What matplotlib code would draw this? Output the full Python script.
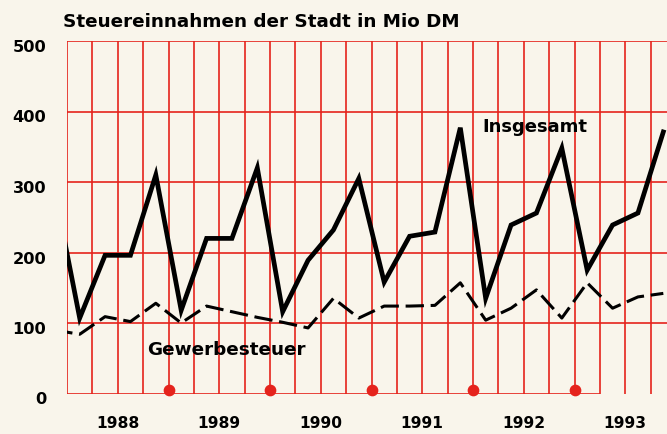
import matplotlib
matplotlib.use("Agg")
import matplotlib.pyplot as plt
import matplotlib.transforms as mtransforms
import numpy as np
import pandas as pd

# quarterly tax revenue, Mio DM
quarters = pd.period_range("1987Q4", "1993Q4", freq="Q")
insgesamt = [291, 107, 196, 196, 310, 118, 220, 220, 320, 116, 189, 232, 305,
             158, 223, 229, 377, 135, 239, 256, 348, 175, 239, 256, 371]
gewerbesteuer = [90, 84, 109, 102, 128, 100, 124, 116, 108, 101, 93, 135, 107,
                 124, 124, 125, 157, 104, 121, 147, 107, 157, 121, 137, 142]
years = [1988, 1989, 1990, 1991, 1992, 1993]
marker_years = [1989, 1990, 1991, 1992, 1993]
y_ticks = [0, 100, 200, 300, 400, 500]

RED = "#e5231c"
BG = "#f9f5eb"
FONT = "DejaVu Sans"

x = np.array([q.year + (q.quarter - 0.5) / 4 for q in quarters])
x_end = 1988 + (667 - 67) / 101.5

fig = plt.figure(figsize=(6.67, 4.34), dpi=100, facecolor=BG)
ax = fig.add_axes([67 / 667, 1 - 393.5 / 434, 1 - 67 / 667, (393.5 - 41) / 434])
ax.set_facecolor(BG)
ax.set_xlim(1988, x_end)
ax.set_ylim(0, 500)
for s in ax.spines.values():
    s.set_visible(False)

# red grid paper
q_lines = np.arange(1988, 1993.76, 0.25)
ax.vlines(q_lines, 0, 500, color=RED, lw=1.2, zorder=1)
ax.hlines([100, 200, 300, 400, 500], 1988, x_end, color=RED, lw=1.2, zorder=1)
ax.hlines(0, 1988, 1993.25, color=RED, lw=1.2, zorder=1)

ax.plot(x, insgesamt, color="black", lw=3.4, solid_joinstyle="miter", zorder=3)
ax.plot(x, gewerbesteuer, color="black", lw=2.2, dashes=(6, 2.2), zorder=3)

ax.scatter(marker_years, [5] * len(marker_years), s=55, color=RED,
           zorder=4, clip_on=False)

ax.set_xticks([])
ax.set_yticks(y_ticks)
ax.set_yticklabels([str(v) for v in y_ticks], fontfamily=FONT,
                   fontweight="bold", fontsize=11.7)
ax.tick_params(axis="y", length=0, pad=15)
shift = mtransforms.ScaledTranslation(0, -5 / 100, fig.dpi_scale_trans)
for lab in ax.get_yticklabels():
    lab.set_transform(lab.get_transform() + shift)

for yr in years:
    ax.text(yr + 0.5, -42, str(yr), ha="center", va="center", fontsize=11.2,
            fontweight="bold", fontfamily=FONT, clip_on=False)

ax.text(1992.61, 378, "Insgesamt", ha="center", va="center", fontsize=13,
        fontweight="bold", fontfamily=FONT)
ax.text(1989.57, 62, "Gewerbesteuer", ha="center", va="center", fontsize=13.2,
        fontweight="bold", fontfamily=FONT)

fig.text(63 / 667, 1 - 22 / 434, "Steuereinnahmen der Stadt in Mio DM",
         ha="left", va="center", fontsize=13.2, fontweight="bold",
         fontfamily=FONT)

fig.savefig("out.png", dpi=100, facecolor=BG)
